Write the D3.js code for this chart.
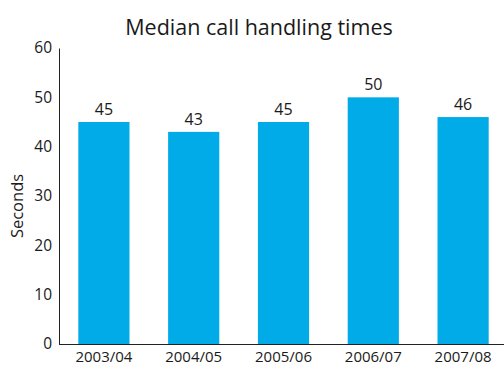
<!DOCTYPE html>
<html>
<head>
<meta charset="utf-8">
<script src="https://cdn.jsdelivr.net/npm/d3@7"></script>
<style>
  body { margin: 0; background: #fff; }
  text { font-family: "Open Sans", "Noto Sans", sans-serif; fill: #1a1a1a; }
</style>
</head>
<body>
<div id="chart"></div>
<script>
// Median call handling times (seconds)
const years = ["2003/04", "2004/05", "2005/06", "2006/07", "2007/08"];
const medianSeconds = [45, 43, 45, 50, 46];
const yTicks = [0, 10, 20, 30, 40, 50, 60];

const width = 504, height = 365;
const margin = { top: 48, right: -4, bottom: 21, left: 59 };

const svg = d3.select("#chart").append("svg")
  .attr("width", width)
  .attr("height", height);

const innerW = width - margin.left - margin.right;
const innerH = height - margin.top - margin.bottom;

const g = svg.append("g")
  .attr("transform", `translate(${margin.left},${margin.top})`);

const x = d3.scaleBand()
  .domain(years)
  .range([0, innerW])
  .paddingInner(0.43)
  .paddingOuter(0.215);

const y = d3.scaleLinear()
  .domain([0, 60])
  .range([innerH, 0]);

// bars
g.selectAll("rect")
  .data(years)
  .join("rect")
  .attr("x", d => x(d))
  .attr("y", (d, i) => y(medianSeconds[i]))
  .attr("width", x.bandwidth())
  .attr("height", (d, i) => innerH - y(medianSeconds[i]))
  .attr("fill", "#00abe8");

// value labels
g.selectAll(".val")
  .data(years)
  .join("text")
  .attr("class", "val")
  .attr("x", d => x(d) + x.bandwidth() / 2)
  .attr("y", (d, i) => y(medianSeconds[i]) - 7)
  .attr("text-anchor", "middle")
  .style("font-size", "16px")
  .text((d, i) => medianSeconds[i]);

// y axis
const yAxis = g.append("g")
  .call(d3.axisLeft(y).tickValues(yTicks).tickSize(0).tickPadding(7));
yAxis.select(".domain").attr("stroke", "#222").attr("stroke-width", 1);
yAxis.selectAll("text").style("font-size", "15.5px").attr("fill", "#1a1a1a");

// x axis
const xAxis = g.append("g")
  .attr("transform", `translate(0,${innerH})`)
  .call(d3.axisBottom(x).tickSize(0).tickPadding(7));
xAxis.select(".domain").remove();
xAxis.selectAll("text").style("font-size", "15px").attr("fill", "#1a1a1a");
g.append("line")
  .attr("x1", 0).attr("x2", width - margin.left)
  .attr("y1", innerH + 0.5).attr("y2", innerH + 0.5)
  .attr("stroke", "#222");

// title
svg.append("text")
  .attr("x", 259)
  .attr("y", 35)
  .attr("text-anchor", "middle")
  .style("font-size", "21.5px")
  .text("Median call handling times");

// y label
svg.append("text")
  .attr("transform", `translate(23,${margin.top + innerH / 2 + 10}) rotate(-90)`)
  .attr("text-anchor", "middle")
  .style("font-size", "16.5px")
  .text("Seconds");
</script>
</body>
</html>
